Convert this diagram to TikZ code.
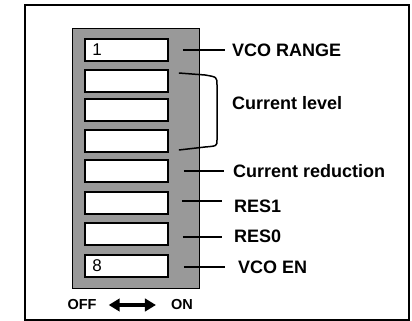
\documentclass[tikz,border=0pt]{standalone}
\usepackage{fontspec}
\setmainfont{Liberation Sans}
\usetikzlibrary{arrows.meta}
\tikzset{
  switchbox/.style={draw, line width=1.8pt, fill=white, minimum width=83pt, minimum height=22pt, inner sep=0pt},
  lbl/.style={anchor=west, inner sep=0pt, font=\fontsize{18}{20}\selectfont\bfseries},
  lead/.style={line width=1.5pt}
}
\begin{document}
\begin{tikzpicture}[x=1pt,y=-1pt]
      \useasboundingbox (0,0) rectangle (412,321);
      \draw[line width=1.6pt] (25,5) rectangle (409,320);
      \draw[fill=black!40, line width=1pt] (72,29) rectangle (199,288);

      \foreach \i/\y in {1/50,2/81,3/110,4/141,5/171,6/203,7/234,8/266}
        \node[switchbox] (s\i) at (126.5,\y) {};
      \node[anchor=west, inner sep=0pt, font=\fontsize{17}{20}\selectfont] (n1) at ([xshift=8pt]s1.west) {1};
      \node[anchor=west, inner sep=0pt, font=\fontsize{17}{20}\selectfont] (n8) at ([xshift=8pt]s8.west) {8};

      \node[lbl] (vcorange) at (232,50) {VCO RANGE};
      \node[lbl] (curlevel) at (232,103) {Current level};
      \node[lbl] (curred) at (233,171) {Current reduction};
      \node[lbl] (res1) at (234,206) {RES1};
      \node[lbl] (res0) at (234,236) {RES0};
      \node[lbl] (vcoen) at (238,267) {VCO EN};

      \draw[lead] ([xshift=14pt]s1.east) -- ([xshift=-7pt]vcorange.west);
      \draw[lead] ([xshift=15pt]s5.east) -- ([xshift=-9pt]curred.west);
      \draw[lead] ([xshift=13pt,yshift=2pt]s6.east) -- ([xshift=-12pt,yshift=5pt]res1.west);
      \draw[lead] ([xshift=14pt,yshift=-3pt]s7.east) -- ([xshift=-12pt,yshift=-1pt]res0.west);
      \draw[lead] ([xshift=15pt,yshift=-1pt]s8.east) -- ([xshift=-13pt]vcoen.west);
      % bracket for the three current level switches
      \draw[lead] ([xshift=10pt,yshift=8pt]s2.east) -- (205,75) .. controls (217,77) .. (217,85)
        -- (217,140) .. controls (217,146) .. (205,147) -- ([xshift=10pt,yshift=-9pt]s4.east);

      \node[inner sep=0pt, font=\fontsize{14.5}{16}\selectfont\bfseries] (off) at (82,305) {OFF};
      \node[inner sep=0pt, font=\fontsize{14.5}{16}\selectfont\bfseries] (on) at (182,305) {ON};
      \draw[line width=4.5pt, {Triangle[length=11pt,width=12.5pt]}-{Triangle[length=11pt,width=12.5pt]},
        shorten <=12pt, shorten >=15pt] (off.east) -- (on.west);
    \end{tikzpicture}
\end{document}
